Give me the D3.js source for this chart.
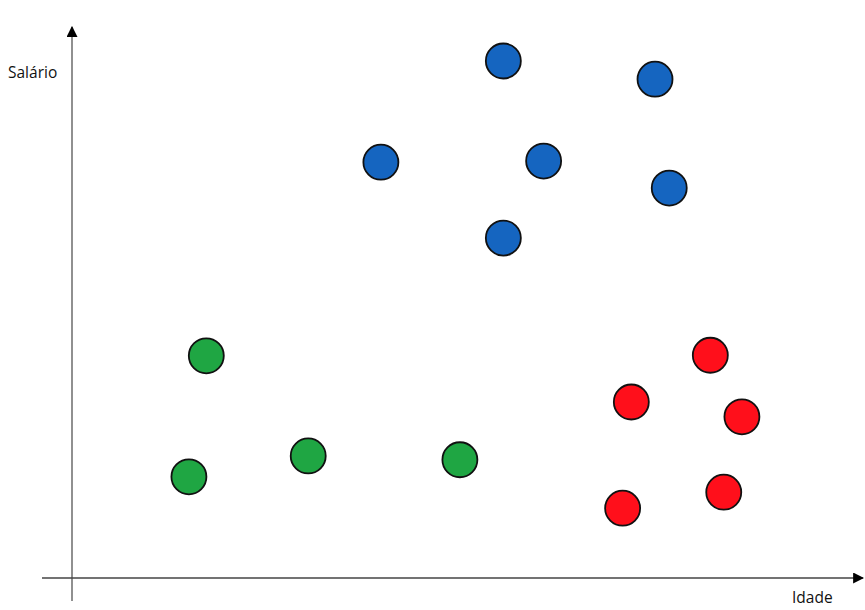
<!DOCTYPE html>
<html>
<head>
<meta charset="utf-8">
<script src="https://cdn.jsdelivr.net/npm/d3@7"></script>
<style>
  html, body { margin: 0; padding: 0; background: #fff; }
  text { font-family: "Open Sans", "Liberation Sans", sans-serif; }
</style>
</head>
<body>
<div id="canvas"></div>
<script>
const W = 865, H = 610;

// data (arbitrary units, 0..100 on both axes)
const groups = ["azul", "verde", "vermelho"];
const colors = ["#1565c0", "#1fa643", "#ff0f1b"];
const idade = [
  [54.6, 73.8, 39.1, 59.7, 75.6, 54.6],
  [17.0, 14.8, 29.9, 49.1],
  [80.8, 70.8, 84.8, 82.5, 69.7]
];
const salario = [
  [94.0, 90.7, 75.6, 75.8, 70.9, 61.8],
  [40.4, 18.4, 22.2, 21.5],
  [40.5, 32.0, 29.3, 15.6, 12.7]
];

const points = [];
groups.forEach((g, gi) => {
  idade[gi].forEach((x, i) => points.push({ g: gi, x: x, y: salario[gi][i] }));
});

const svg = d3.select("#canvas")
  .append("svg")
    .attr("width", W)
    .attr("height", H);

const xScale = d3.scaleLinear().domain([0, 100]).range([72, 862]);
const yScale = d3.scaleLinear().domain([0, 100]).range([578, 28]);

const defs = svg.append("defs");
defs.append("marker")
    .attr("id", "arrow")
    .attr("viewBox", "0 0 10 10")
    .attr("refX", 9).attr("refY", 5)
    .attr("markerWidth", 11).attr("markerHeight", 11)
    .attr("markerUnits", "userSpaceOnUse")
    .attr("orient", "auto")
  .append("path")
    .attr("d", "M0,0 L10,5 L0,10 Z")
    .attr("fill", "#000");

// axes
svg.append("line")
  .attr("x1", xScale(0)).attr("y1", 601)
  .attr("x2", xScale(0)).attr("y2", yScale(100) - 1)
  .attr("stroke", "#6b6b6b").attr("stroke-width", 1.5)
  .attr("marker-end", "url(#arrow)");

svg.append("line")
  .attr("x1", 42).attr("y1", yScale(0))
  .attr("x2", xScale(100) + 1).attr("y2", yScale(0))
  .attr("stroke", "#444").attr("stroke-width", 1.5)
  .attr("marker-end", "url(#arrow)");

svg.append("text")
  .attr("x", 8).attr("y", 78)
  .attr("font-size", 15.5)
  .attr("fill", "#111")
  .text("Salário");

svg.append("text")
  .attr("x", 792).attr("y", 603)
  .attr("font-size", 15.5)
  .attr("fill", "#111")
  .text("Idade");

svg.selectAll(".point")
  .data(points)
  .enter().append("circle")
    .attr("class", "point")
    .attr("cx", d => xScale(d.x))
    .attr("cy", d => yScale(d.y))
    .attr("r", 17.5)
    .attr("fill", d => colors[d.g])
    .attr("stroke", "#111")
    .attr("stroke-width", 1.8);
</script>
</body>
</html>
